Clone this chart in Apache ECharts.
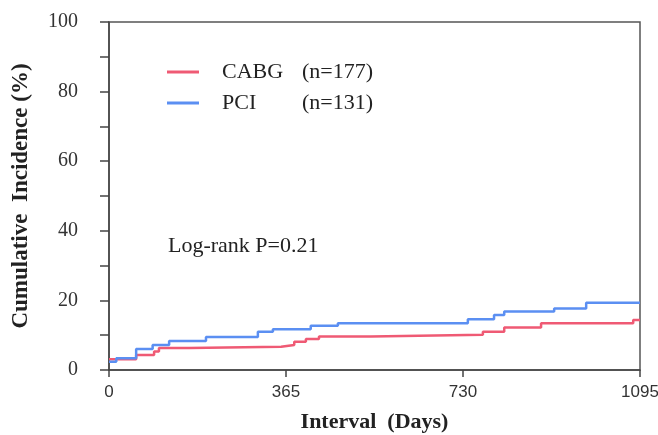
<!DOCTYPE html>
<html lang="en" style="height: 100%">
<head>
  <meta charset="utf-8">
</head>
<body style="height: 100%; margin: 0; background: #fff">
  <div id="container" style="width: 658px; height: 435px"></div>
  <script type="text/javascript" src="https://fastly.jsdelivr.net/npm/echarts@6.0.0/dist/echarts.min.js"></script>
  <script type="text/javascript">
    // Kaplan-Meier style cumulative incidence
    var cabgDays = [0, 56, 93, 103, 165, 355, 382, 406, 433, 540, 771, 815, 891, 1081, 1095];
    var cabgVals = [3.1, 4.3, 5.3, 6.3, 6.7, 7.2, 8.1, 8.9, 9.6, 10.1, 11.0, 12.2, 13.4, 14.4, 14.4];
    var pciDays = [0, 15, 56, 90, 124, 200, 307, 338, 416, 472, 740, 794, 815, 918, 984, 1095];
    var pciVals = [2.4, 3.4, 6.0, 7.2, 8.3, 9.5, 11.0, 11.7, 12.7, 13.4, 14.6, 15.8, 16.8, 17.7, 19.3, 19.3];
    var groupNames = ['CABG', 'PCI'];
    var groupN = ['(n=177)', '(n=131)'];
    var xTicks = [0, 365, 730, 1095];

    function pairs(days, vals) {
      return days.map(function (d, i) { return [d, vals[i]]; });
    }

    var dom = document.getElementById('container');
    var myChart = echarts.init(dom, null, { renderer: 'canvas' });
    var serif = '"Liberation Serif", "Times New Roman", serif';

    var option = {
      animation: false,
      backgroundColor: '#fff',
      title: {
        text: 'Log-rank P=0.21',
        left: 168,
        top: 235,
        padding: 0,
        textStyle: { fontFamily: serif, fontSize: 22, fontWeight: 'normal', color: '#222' }
      },
      legend: {
        orient: 'vertical',
        left: 167,
        top: 61,
        padding: 0,
        itemGap: 9,
        itemWidth: 32,
        itemHeight: 3,
        icon: 'rect',
        data: groupNames,
        formatter: function (name) {
          return '{a|' + name + '}{b|' + groupN[groupNames.indexOf(name)] + '}';
        },
        textStyle: {
          fontFamily: serif,
          fontSize: 22,
          color: '#222',
          rich: {
            a: { fontFamily: serif, fontSize: 22, color: '#222', width: 80, padding: [0, 0, 0, 18] },
            b: { fontFamily: serif, fontSize: 22, color: '#222' }
          }
        }
      },
      grid: {
        left: 109, right: 18, top: 22, bottom: 65,
        outerBoundsMode: 'none',
        containLabel: false,
        show: true, borderColor: '#555', borderWidth: 1.5, backgroundColor: 'transparent'
      },
      xAxis: {
        type: 'value',
        min: 0,
        max: 1095,
        interval: 365,
        name: 'Interval  (Days)',
        nameLocation: 'middle',
        nameGap: 41,
        nameTextStyle: { fontFamily: serif, fontSize: 22, fontWeight: 'bold', color: '#222' },
        splitLine: { show: false },
        axisLine: { lineStyle: { color: '#444', width: 1.5 } },
        axisTick: { show: true, length: 7, inside: false, lineStyle: { color: '#444', width: 1.5 }, customValues: xTicks },
        axisLabel: {
          fontFamily: '"Liberation Sans", Arial, sans-serif', fontSize: 17, color: '#333', margin: 14,
          customValues: xTicks,
          formatter: function (v) { return String(v); }
        }
      },
      yAxis: {
        type: 'value',
        min: 0,
        max: 100,
        interval: 10,
        name: 'Cumulative  Incidence (%)',
        nameLocation: 'middle',
        nameGap: 76,
        nameTextStyle: { fontFamily: serif, fontSize: 23, fontWeight: 'bold', color: '#222' },
        splitLine: { show: false },
        axisLine: { lineStyle: { color: '#444', width: 1.5 } },
        axisTick: { length: 9, lineStyle: { color: '#444', width: 1.5 } },
        axisLabel: {
          fontFamily: serif, fontSize: 20, color: '#333', margin: 31,
          formatter: function (v) { return v % 20 === 0 ? String(v) : ''; }
        }
      },
      series: [
        {
          name: 'CABG',
          type: 'line',
          step: 'end',
          symbol: 'none',
          color: '#ef5a74',
          lineStyle: { width: 2.5, color: '#ef5a74' },
          data: pairs(cabgDays, cabgVals)
        },
        {
          name: 'PCI',
          type: 'line',
          step: 'end',
          symbol: 'none',
          color: '#5b8ff2',
          lineStyle: { width: 2.5, color: '#5b8ff2' },
          data: pairs(pciDays, pciVals)
        }
      ]
    };

    myChart.setOption(option);
    window.addEventListener('resize', myChart.resize);
  </script>
</body>
</html>
